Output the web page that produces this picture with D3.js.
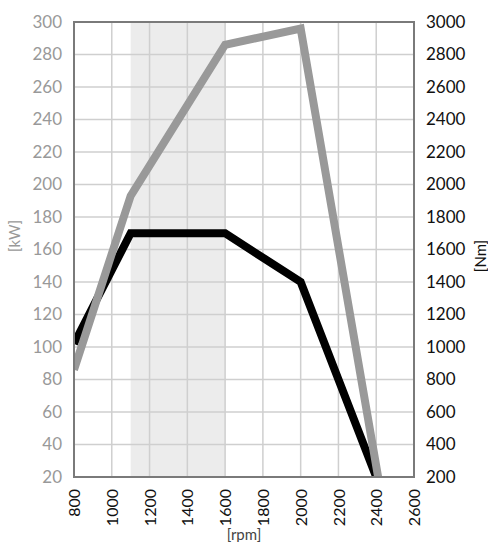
<!DOCTYPE html>
<html>
<head>
<meta charset="utf-8">
<script src="https://cdn.jsdelivr.net/npm/d3@7"></script>
<style>
  body { margin: 0; background: #fff; }
  text { font-family: Lato, "Open Sans", sans-serif; }
</style>
</head>
<body>
<div id="chart"></div>
<script>
var rpm = [800, 1100, 1600, 2000, 2410];
var powerKw = [86, 193, 286, 296, 20];
var torqueRpm = [800, 1100, 1600, 2000, 2400];
var torqueNm = [1020, 1700, 1700, 1400, 200];
var xTicks = [800, 1000, 1200, 1400, 1600, 1800, 2000, 2200, 2400, 2600];
var kwTicks = [20, 40, 60, 80, 100, 120, 140, 160, 180, 200, 220, 240, 260, 280, 300];
var nmTicks = [200, 400, 600, 800, 1000, 1200, 1400, 1600, 1800, 2000, 2200, 2400, 2600, 2800, 3000];
var band = [1100, 1600];

var width = 488, height = 542;
var margin = { top: 22, right: 74, bottom: 65, left: 74 };
var w = width - margin.left - margin.right;
var h = height - margin.top - margin.bottom;

var svg = d3.select('#chart').append('svg')
            .attr('width', width)
            .attr('height', height);

var x = d3.scaleLinear().domain([800, 2600]).range([0, w]);
var yL = d3.scaleLinear().domain([20, 300]).range([h, 0]);
var yR = d3.scaleLinear().domain([200, 3000]).range([h, 0]);
var fmt = d3.format('d');

var g = svg.append('g')
           .attr('transform', 'translate(' + margin.left + ',' + margin.top + ')');

svg.append('defs').append('clipPath').attr('id', 'plot')
   .append('rect').attr('width', w).attr('height', h);

// shaded band
g.append('rect')
 .attr('x', x(band[0]))
 .attr('width', x(band[1]) - x(band[0]))
 .attr('y', 0).attr('height', h)
 .attr('fill', '#ececec');

// grid
g.selectAll('.vgrid').data(xTicks).enter().append('line')
 .attr('x1', function(d){ return x(d); }).attr('x2', function(d){ return x(d); })
 .attr('y1', 0).attr('y2', h)
 .attr('stroke', '#cfcfcf').attr('stroke-width', 1.5);
g.selectAll('.hgrid').data(kwTicks).enter().append('line')
 .attr('y1', function(d){ return yL(d); }).attr('y2', function(d){ return yL(d); })
 .attr('x1', 0).attr('x2', w)
 .attr('stroke', '#cfcfcf').attr('stroke-width', 1.5);

// lines
var lines = g.append('g').attr('clip-path', 'url(#plot)');
var powerLine = d3.line()
    .x(function(d, i){ return x(rpm[i]); })
    .y(function(d){ return yL(d); });
var torqueLine = d3.line()
    .x(function(d, i){ return x(torqueRpm[i]); })
    .y(function(d){ return yR(d); });

lines.append('path').datum(torqueNm)
     .attr('d', torqueLine)
     .attr('fill', 'none').attr('stroke', '#000').attr('stroke-width', 8)
     .attr('stroke-linejoin', 'miter');
lines.append('path').datum(powerKw)
     .attr('d', powerLine)
     .attr('fill', 'none').attr('stroke', '#999').attr('stroke-width', 8)
     .attr('stroke-linejoin', 'miter');

// frame
g.append('rect').attr('width', w).attr('height', h)
 .attr('fill', 'none').attr('stroke', '#7a7a7a').attr('stroke-width', 2);

// axes
var axisL = g.append('g').call(d3.axisLeft(yL).tickValues(kwTicks).tickFormat(fmt).tickSize(0).tickPadding(12));
var axisR = g.append('g').attr('transform', 'translate(' + w + ',0)')
             .call(d3.axisRight(yR).tickValues(nmTicks).tickFormat(fmt).tickSize(0).tickPadding(12));
var axisB = g.append('g').attr('transform', 'translate(0,' + h + ')')
             .call(d3.axisBottom(x).tickValues(xTicks).tickFormat(fmt).tickSize(0));
[axisL, axisR, axisB].forEach(function(a){ a.select('.domain').remove(); });

axisL.selectAll('text').attr('font-size', 17).attr('fill', '#999').attr('font-family', 'Lato');
axisR.selectAll('text').attr('font-size', 17).attr('fill', '#111').attr('font-family', 'Lato');
axisB.selectAll('text')
     .attr('font-size', 16).attr('fill', '#111').attr('font-family', 'Lato')
     .attr('transform', 'rotate(-90)')
     .attr('text-anchor', 'end')
     .attr('x', -12).attr('y', 0).attr('dy', '0.35em');

// unit labels
svg.append('text').text('[kW]')
   .attr('transform', 'translate(20,236) rotate(-90)')
   .attr('text-anchor', 'middle').attr('font-size', 15).attr('fill', '#999');
svg.append('text').text('[Nm]')
   .attr('transform', 'translate(486,256) rotate(-90)')
   .attr('text-anchor', 'middle').attr('font-size', 15).attr('fill', '#111');
svg.append('text').text('[rpm]')
   .attr('x', x(1700) + margin.left).attr('y', 540)
   .attr('text-anchor', 'middle').attr('font-size', 15).attr('fill', '#444');
</script>
</body>
</html>
